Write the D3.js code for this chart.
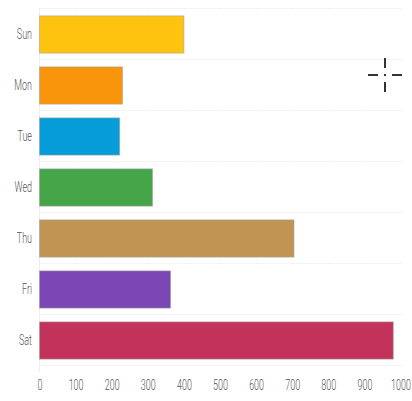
<!DOCTYPE html>
<html>
<head>
<meta charset="utf-8">
<script src="https://cdnjs.cloudflare.com/ajax/libs/d3/7.8.5/d3.min.js"></script>
<style>
  html, body { margin: 0; padding: 0; background: #fff; }
  svg { display: block; }
  .tick text { font-family: "Roboto", sans-serif; font-size: 14px; font-weight: 300; fill: #555; }
</style>
</head>
<body>
<svg id="chart" width="412" height="401"></svg>
<script>
// Weekly totals per day
const days = ["Sun", "Mon", "Tue", "Wed", "Thu", "Fri", "Sat"];
const values = [400, 230, 222, 313, 705, 363, 980];
const colors = ["#fdc30f", "#f8950b", "#069bd9", "#46a549", "#c09554", "#7b47b4", "#c2325b"];
const xTicks = [0, 100, 200, 300, 400, 500, 600, 700, 800, 900, 1000];

const svg = d3.select("#chart");
const plotLeft = 39.5, plotRight = 400.5, plotTop = 9, plotBottom = 366;
const narrow = "scale(0.64,1)"; // condensed label lettering

const x = d3.scaleLinear().domain([0, 1000]).range([plotLeft, plotRight]);
const y = d3.scaleBand().domain(days).range([plotTop, plotBottom]).paddingInner(0.27).paddingOuter(0.135);

// light horizontal separators between rows
const step = y.step();
const seps = d3.range(days.length + 1).map(i => plotTop + i * step - 1);
svg.append("g").selectAll("line").data(seps).join("line")
  .attr("x1", plotLeft).attr("x2", plotRight)
  .attr("y1", d => d + 0.5).attr("y2", d => d + 0.5)
  .attr("stroke", "#f4f4f4").attr("stroke-width", 1);

// faint tick dots along separators
svg.append("g").selectAll("g").data(seps).join("g")
  .selectAll("rect").data(d => xTicks.slice(1).map(t => [x(t), d]))
  .join("rect")
  .attr("x", d => d[0]).attr("y", d => d[1]).attr("width", 1).attr("height", 1)
  .attr("fill", "#e8e8e8");

// left baseline
svg.append("line")
  .attr("x1", plotLeft).attr("x2", plotLeft)
  .attr("y1", plotTop - 1).attr("y2", plotBottom + 6)
  .attr("stroke", "#eeeeee");

// bars
svg.append("g").selectAll("rect").data(days).join("rect")
  .attr("x", x(0))
  .attr("y", d => y(d))
  .attr("width", (d, i) => x(values[i]) - x(0))
  .attr("height", y.bandwidth())
  .attr("fill", (d, i) => colors[i])
  .attr("stroke", "rgba(160,160,160,0.55)")
  .attr("stroke-width", 1);

// axes
const yAxis = svg.append("g").attr("transform", `translate(32,0)`)
  .call(d3.axisLeft(y).tickSize(0).tickPadding(0));
yAxis.select(".domain").remove();
yAxis.selectAll("text").attr("transform", narrow);

const xAxis = svg.append("g").attr("transform", `translate(0,${plotBottom + 14})`)
  .call(d3.axisBottom(x).tickValues(xTicks).tickSize(0).tickPadding(0).tickFormat(d3.format("d")));
xAxis.select(".domain").remove();
xAxis.selectAll("text").attr("transform", narrow);

// crosshair cursor
const cx = 385, cy = 75;
const cursor = svg.append("g").attr("stroke", "#333").attr("stroke-width", 2);
cursor.append("line").attr("x1", cx - 17).attr("x2", cx - 7).attr("y1", cy).attr("y2", cy);
cursor.append("line").attr("x1", cx + 7).attr("x2", cx + 17).attr("y1", cy).attr("y2", cy);
cursor.append("line").attr("x1", cx).attr("x2", cx).attr("y1", cy - 17).attr("y2", cy - 7);
cursor.append("line").attr("x1", cx).attr("x2", cx).attr("y1", cy + 7).attr("y2", cy + 17);
svg.append("rect").attr("x", cx - 1).attr("y", cy - 1).attr("width", 2).attr("height", 2).attr("fill", "#333");
</script>
</body>
</html>
